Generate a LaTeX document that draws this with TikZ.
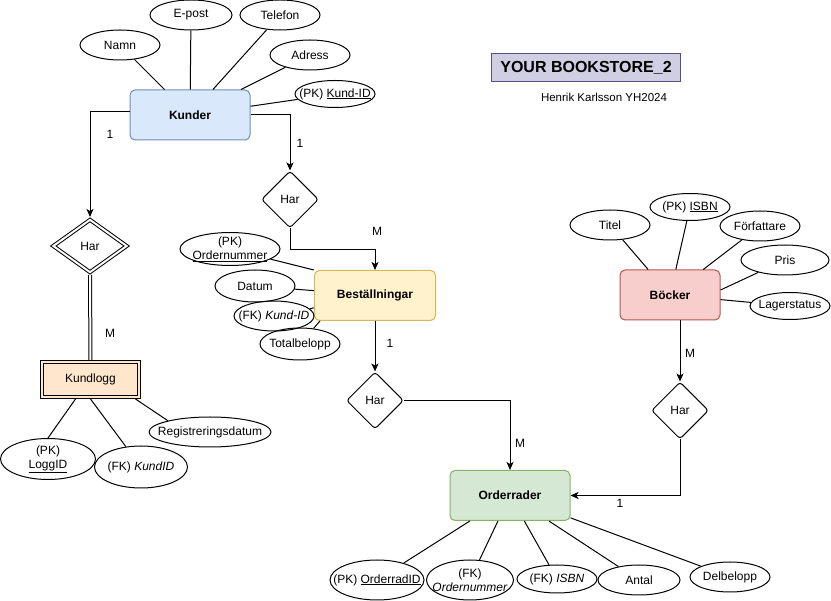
\documentclass[tikz,border=0pt]{standalone}
\usepackage{fontspec}
\setmainfont{Liberation Sans}
\usetikzlibrary{arrows.meta}
\usetikzlibrary{shapes.geometric}
\usetikzlibrary{positioning}

\definecolor{kunderfill}{HTML}{DAE8FC}
\definecolor{kunderdraw}{HTML}{6C8EBF}
\definecolor{bestfill}{HTML}{FFF2CC}
\definecolor{bestdraw}{HTML}{D6B656}
\definecolor{bockerfill}{HTML}{F8CECC}
\definecolor{bockerdraw}{HTML}{B85450}
\definecolor{orderfill}{HTML}{D5E8D4}
\definecolor{orderdraw}{HTML}{82B366}
\definecolor{kloggfill}{HTML}{FFE6CC}
\definecolor{titlefill}{HTML}{D0CEE2}
\definecolor{titledraw}{HTML}{56517E}

\tikzset{
        entity/.style={draw, rounded corners=5pt, minimum width=120pt, minimum height=50pt,
                font=\fontsize{12}{14}\selectfont\bfseries},
        attr/.style={ellipse, draw, inner xsep=-12pt, inner ysep=-3pt, minimum width=80pt,
                minimum height=30pt, align=center},
        rel/.style={diamond, draw, fill=white, aspect=1, inner sep=0pt, minimum width=57pt,
                minimum height=57pt, rounded corners=3pt},
        card/.style={inner sep=0pt},
}

\begin{document}
\begin{tikzpicture}[x=1pt, y=-1pt, line width=1pt, >={Stealth[length=8pt,width=7pt,inset=2pt]},
                font=\fontsize{12}{14}\selectfont]
        \useasboundingbox (0,0) rectangle (831,601);

        % title
        \node[draw=titledraw, fill=titlefill, minimum width=189pt, minimum height=28pt,
                font=\fontsize{16}{18}\selectfont\bfseries] (title) at (586,67.5) {YOUR BOOKSTORE\_2};
        \node[font=\fontsize{11.5}{13}\selectfont] (author) at (604,97) {Henrik Karlsson YH2024};

        % entities
        \node[entity, draw=kunderdraw, fill=kunderfill] (kunder) at (190,115) {Kunder};
        \node[entity, draw=bestdraw, fill=bestfill, minimum width=121pt] (best) at (375,295.5) {Beställningar};
        \node[entity, draw=bockerdraw, fill=bockerfill, minimum width=100pt] (bocker) at (670,295) {Böcker};
        \node[entity, draw=orderdraw, fill=orderfill] (order) at (510,495.5) {Orderrader};
        \node[draw, fill=kloggfill, minimum width=100pt, minimum height=38pt] (kundlogg) at (90.5,379.5) {Kundlogg};
        \node[draw, minimum width=94pt, minimum height=32pt] (kundloggin) at (kundlogg) {};

        % relations
        \node[diamond, draw, double=white, double distance=2pt, fill=white, inner sep=0pt,
                minimum width=75pt, minimum height=54pt, outer sep=2pt] (har1) at (90,246) {Har};
        \node[rel] (har2) at (290,199.5) {Har};
        \node[rel] (har3) at (375,400.5) {Har};
        \node[rel] (har4) at (680,410.5) {Har};

        % attributes
        \node[attr] (namn) at (120,45) {Namn};
        \node[attr, minimum width=82pt] (epost) at (191,15) {E-post};
        \node[attr] (telefon) at (280,15) {Telefon};
        \node[attr] (adress) at (310,55) {Adress};
        \node[attr, minimum height=27pt] (kundid) at (335,94) {(PK) \underline{Kund-ID}};

        \node[attr, minimum width=95pt, minimum height=41pt] (loggid) at (48,459) {(PK)\\\underline{LoggID}};
        \node[attr, minimum width=93pt, minimum height=42pt] (kundidfk) at (141,467) {(FK) \textit{KundID}};
        \node[attr, minimum width=122pt] (regdatum) at (210,432) {Registreringsdatum};

        \node[attr, minimum width=100pt, minimum height=33pt] (ordnr) at (230,249) {(PK)\\\underline{Ordernummer}};
        \node[attr, minimum height=32pt] (datum) at (255,286) {Datum};
        \node[attr] (kundidbest) at (274,316) {(FK) \textit{Kund-ID}};
        \node[attr, minimum height=32pt] (totalb) at (300,344) {Totalbelopp};

        \node[attr] (titel) at (610,225) {Titel};
        \node[attr, minimum height=27pt] (isbn) at (690,207) {(PK) \underline{ISBN}};
        \node[attr] (forf) at (760,226) {Författare};
        \node[attr, minimum width=88pt] (pris) at (785,260) {Pris};
        \node[attr, minimum height=27pt] (lager) at (790,306) {Lagerstatus};

        \node[attr, minimum width=94pt, minimum height=40pt] (orderradid) at (377,580) {(PK) \underline{OrderradID}};
        \node[attr, minimum width=87pt, minimum height=40pt] (ordnrfk) at (470,580) {(FK)\\\textit{Ordernummer}};
        \node[attr, minimum height=28pt] (isbnfk) at (557,579) {(FK) \textit{ISBN}};
        \node[attr, minimum width=82pt] (antal) at (639,580) {Antal};
        \node[attr] (delb) at (730,577) {Delbelopp};

        % attribute lines
        \foreach \a in {namn, epost, telefon, adress, kundid}
                \draw (\a) -- (kunder);
        \draw (loggid.north) -- ([xshift=-15pt]kundlogg.south);
        \draw (kundidfk) -- (kundlogg.south);
        \draw (regdatum.165) -- ([xshift=45pt]kundlogg.south);
        \draw (ordnr) -- (best.north west);
        \draw (datum) -- (best);
        \draw (kundidbest) -- (best);
        \draw (totalb) -- ([xshift=-55pt]best.south);
        \foreach \a in {titel, isbn, forf, lager}
                \draw (\a) -- (bocker);
        \draw (pris) -- ([yshift=5pt]bocker.east);
        \foreach \a in {orderradid, ordnrfk, isbnfk, antal, delb}
                \draw (\a) -- (order);

        % relation lines
        \draw[->] ([yshift=3pt]kunder.west) -| (har1.north);
        \draw[double, double distance=2pt] (har1.south) -- (kundlogg.north);
        \draw[->] (kunder.east) -| (har2.north);
        \draw[->] (har2.south) -- ++(0,21) -| (best.north);
        \draw[->] (best.south) -- (har3.north);
        \draw[->] (har3.east) -| (order.north);
        \draw[->] (har4.north |- bocker.south) -- (har4.north);
        \draw[->] (har4.south) |- (order.east);

        % cardinalities
        \node[card] (c1) at (110,134) {1};
        \node[card] (c2) at (300,143) {1};
        \node[card] (m1) at (377,231) {M};
        \node[card] (m2) at (110,333) {M};
        \node[card] (c3) at (390,343) {1};
        \node[card] (m3) at (520,443) {M};
        \node[card] (m4) at (690,353) {M};
        \node[card] (c4) at (620,503) {1};
\end{tikzpicture}
\end{document}
